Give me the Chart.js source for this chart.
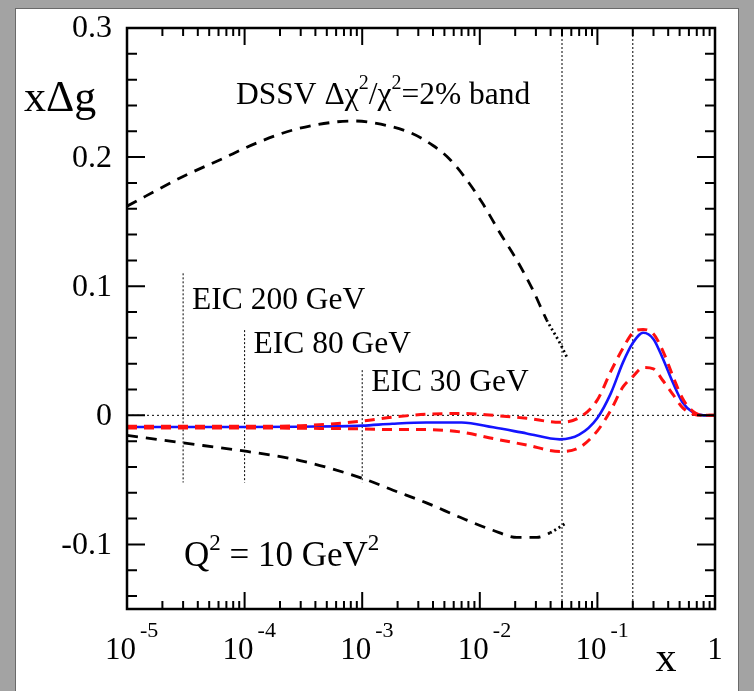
<!DOCTYPE html>
<html>
<head>
<meta charset="utf-8">
<script src="https://cdn.jsdelivr.net/npm/chart.js@4/dist/chart.umd.min.js"></script>
<style>
  body { margin: 0; background: #a3a3a3; }
  canvas { display: block; }
</style>
</head>
<body>
<canvas id="chart" width="754" height="691"></canvas>
<script>
// x grid shared by the central fit and the red band
const xGrid = [1e-5, 3e-5, 1e-4, 3e-4, 1e-3, 1.8e-3, 3.5e-3, 7e-3, 1.3e-2, 2.5e-2, 4.8e-2, 7e-2,
  0.1, 0.13, 0.165, 0.2, 0.245, 0.3, 0.36, 0.44, 0.53, 0.65, 0.8, 1.0];
const blueFit = [-0.009, -0.009, -0.009, -0.0088, -0.008, -0.0065, -0.0055, -0.0055, -0.0093, -0.014, -0.0186, -0.015,
  -0.002, 0.017, 0.041, 0.056, 0.064, 0.059, 0.044, 0.025, 0.010, 0.0023, 0, 0];
const redUpper = [-0.0085, -0.0085, -0.0085, -0.008, -0.0045, -0.0015, 0.0008, 0.0015, 0, -0.0023, -0.0054, -0.0018,
  0.012, 0.034, 0.052, 0.064, 0.0665, 0.063, 0.050, 0.030, 0.013, 0.003, 0, 0];
const redLower = [-0.0098, -0.0098, -0.0098, -0.010, -0.0105, -0.011, -0.011, -0.013, -0.018, -0.023, -0.028, -0.025,
  -0.012, 0.004, 0.022, 0.030, 0.037, 0.036, 0.027, 0.016, 0.006, 0.001, 0, 0];

// DSSV band edges (black)
const dssvUpX = [1e-5, 3e-5, 6.2e-5, 1.27e-4, 2.58e-4, 5.65e-4, 8.4e-4, 1.16e-3, 2.55e-3, 4.0e-3, 5.6e-3,
  7.8e-3, 1.06e-2, 1.49e-2, 2.07e-2, 2.83e-2, 3.7e-2, 4.8e-2, 5.5e-2];
const dssvUpY = [0.162, 0.185, 0.198, 0.211, 0.221, 0.227, 0.228, 0.227, 0.219, 0.209, 0.198,
  0.182, 0.164, 0.141, 0.120, 0.097, 0.074, 0.056, 0.045];
const dssvLoX = [1e-5, 2.8e-5, 1.05e-4, 2.96e-4, 1.02e-3, 1.83e-3, 3.56e-3, 6.8e-3, 1.29e-2, 2.07e-2, 3.06e-2, 3.95e-2, 5.5e-2];
const dssvLoY = [-0.0155, -0.021, -0.028, -0.035, -0.049, -0.058, -0.068, -0.079, -0.089, -0.0945, -0.0945, -0.091, -0.083];
const dottedFrom = 0.036;

// EIC reach markers and the x cuts
const eicX = [3e-5, 1e-4, 1e-3];
const eicTop = [0.110, 0.066, 0.035];
const eicBottom = -0.052;
const eicLabels = ['EIC 200 GeV', 'EIC 80 GeV', 'EIC 30 GeV'];
const cutX = [0.05, 0.2];

// axes
const xMin = 1e-5, xMax = 1, yMin = -0.15, yMax = 0.3;
const xDecades = [1e-5, 1e-4, 1e-3, 1e-2, 1e-1];
const xExps = ['-5', '-4', '-3', '-2', '-1'];
const yMajor = [-0.1, 0, 0.1, 0.2, 0.3];
const yLabels = ['-0.1', '0', '0.1', '0.2', '0.3'];
const yMinor = [-0.14, -0.12, -0.08, -0.06, -0.04, -0.02, 0.02, 0.04, 0.06, 0.08,
  0.12, 0.14, 0.16, 0.18, 0.22, 0.24, 0.26, 0.28];

const pts = (xs, ys) => xs.map((x, i) => ({x: x, y: ys[i]}));
const serif = '"Liberation Serif", "DejaVu Serif", serif';

let datasets = [];
// dotted reference lines first, drawn underneath
eicX.forEach((x, i) => datasets.push({
  data: [{x: x, y: eicTop[i]}, {x: x, y: eicBottom}],
  borderColor: '#000', borderWidth: 1, borderDash: [2, 2], order: 10
}));
cutX.forEach(x => datasets.push({
  data: [{x: x, y: yMin}, {x: x, y: yMax}],
  borderColor: '#000', borderWidth: 1, borderDash: [2, 2], order: 10
}));
datasets.push({
  data: [{x: xMin, y: 0}, {x: xMax, y: 0}],
  borderColor: '#000', borderWidth: 1, borderDash: [2, 3], order: 10
});

const blackSeg = {
  borderDash: ctx => ctx.p0.parsed.x >= dottedFrom ? [2, 3] : [11, 8]
};
datasets.push({ data: pts(dssvUpX, dssvUpY), borderColor: '#000', borderWidth: 2.8,
  cubicInterpolationMode: 'monotone', segment: blackSeg, order: 5 });
datasets.push({ data: pts(dssvLoX, dssvLoY), borderColor: '#000', borderWidth: 2.8,
  cubicInterpolationMode: 'monotone', segment: blackSeg, order: 5 });
datasets.push({ data: pts(xGrid, blueFit), borderColor: '#1414ff', borderWidth: 2.6,
  cubicInterpolationMode: 'monotone', order: 3 });
datasets.push({ data: pts(xGrid, redUpper), borderColor: '#ff1010', borderWidth: 3, borderDash: [10, 7],
  cubicInterpolationMode: 'monotone', order: 1 });
datasets.push({ data: pts(xGrid, redLower), borderColor: '#ff1010', borderWidth: 3, borderDash: [10, 7],
  cubicInterpolationMode: 'monotone', order: 1 });

function richText(ctx, parts, x, y, size) {
  // parts: [text, isSuperscript]
  let cx = x;
  parts.forEach(([t, sup]) => {
    ctx.font = (sup ? Math.round(size * 0.65) : size) + 'px ' + serif;
    ctx.fillText(t, cx, sup ? y - size * 0.38 : y);
    cx += ctx.measureText(t).width;
  });
}

const framePlugin = {
  id: 'frame',
  beforeDraw(chart) {
    const ctx = chart.ctx;
    ctx.save();
    ctx.fillStyle = '#a3a3a3';
    ctx.fillRect(0, 0, chart.width, chart.height);
    ctx.fillStyle = '#fff';
    ctx.fillRect(16, 9, 722, 682);
    ctx.strokeStyle = '#6a6a6a';
    ctx.lineWidth = 1;
    ctx.strokeRect(15.5, 8.5, 723, 690);
    ctx.restore();
  },
  afterDraw(chart) {
    const ctx = chart.ctx, a = chart.chartArea;
    const xs = chart.scales.x, ys = chart.scales.y;
    ctx.save();
    ctx.strokeStyle = '#000';
    ctx.lineWidth = 2.5;
    ctx.strokeRect(a.left, a.top, a.right - a.left, a.bottom - a.top);

    // inward ticks
    ctx.lineWidth = 2;
    ctx.beginPath();
    yMajor.concat(yMinor).forEach(v => {
      const p = ys.getPixelForValue(v);
      const len = yMajor.includes(v) ? 18 : 10;
      ctx.moveTo(a.left, p); ctx.lineTo(a.left + len, p);
      ctx.moveTo(a.right, p); ctx.lineTo(a.right - len, p);
    });
    xDecades.concat([1]).forEach(d => {
      for (let m = 1; m <= 9; m++) {
        const v = d * m;
        if (v > xMax * 1.0001) break;
        const p = xs.getPixelForValue(v);
        const len = m === 1 ? 17 : 8;
        ctx.moveTo(p, a.bottom); ctx.lineTo(p, a.bottom - len);
        ctx.moveTo(p, a.top); ctx.lineTo(p, a.top + len);
      }
    });
    ctx.stroke();

    ctx.fillStyle = '#000';
    ctx.textBaseline = 'middle';
    // y tick labels
    ctx.font = '32px ' + serif;
    ctx.textAlign = 'right';
    yMajor.forEach((v, i) => ctx.fillText(yLabels[i], 112, ys.getPixelForValue(v) + 1));
    // x tick labels
    xDecades.forEach((d, i) => {
      const p = xs.getPixelForValue(d);
      ctx.font = '31px ' + serif;
      ctx.textAlign = 'right';
      ctx.fillText('10', p + 9, 651);
      ctx.font = '22px ' + serif;
      ctx.textAlign = 'left';
      ctx.fillText(xExps[i], p + 13, 631);
    });
    ctx.font = '31px ' + serif;
    ctx.textAlign = 'center';
    ctx.fillText('1', xs.getPixelForValue(1), 651);
    ctx.font = '42px ' + serif;
    ctx.fillText('x', 666, 660);

    ctx.textAlign = 'left';
    ctx.font = '44px ' + serif;
    ctx.fillText('x\u0394g', 24, 99);

    richText(ctx, [['DSSV \u0394\u03c7', false], ['2', true], ['/\u03c7', false], ['2', true], ['=2% band', false]], 236, 96, 31.5);
    const eicDy = [27, 15, 13];
    eicX.forEach((x, i) => {
      ctx.font = '31.5px ' + serif;
      ctx.fillText(eicLabels[i], xs.getPixelForValue(x) + 9, ys.getPixelForValue(eicTop[i]) + eicDy[i]);
    });
    richText(ctx, [['Q', false], ['2', true], [' = 10 GeV', false], ['2', true]], 184, 557, 35);
    ctx.restore();
  }
};

new Chart(document.getElementById('chart'), {
  type: 'line',
  data: { datasets: datasets },
  options: {
    responsive: false,
    animation: false,
    layout: { padding: { left: 127, right: 39, top: 28, bottom: 82 } },
    elements: { point: { radius: 0 } },
    plugins: { legend: { display: false }, tooltip: { enabled: false } },
    scales: {
      x: {
        type: 'logarithmic', min: xMin, max: xMax,
        ticks: { display: false }, grid: { display: false }, border: { display: false },
        afterFit: s => { s.height = 0; }
      },
      y: {
        type: 'linear', min: yMin, max: yMax,
        ticks: { display: false }, grid: { display: false }, border: { display: false },
        afterFit: s => { s.width = 0; }
      }
    }
  },
  plugins: [framePlugin]
});
</script>
</body>
</html>
